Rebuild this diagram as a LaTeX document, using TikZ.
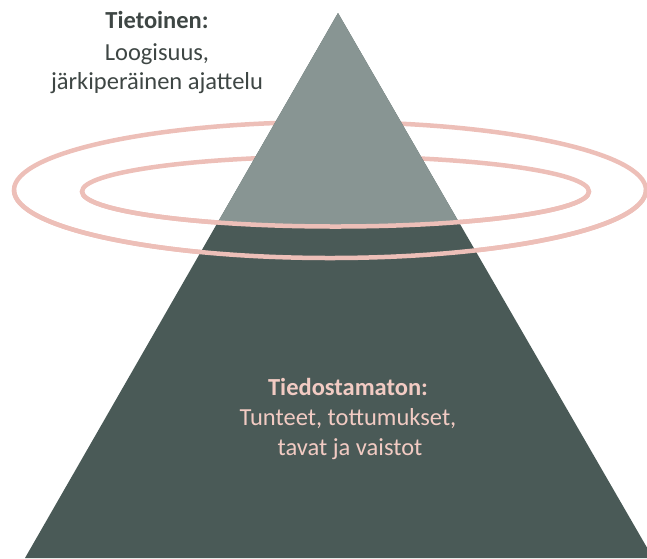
\documentclass[tikz,border=0pt]{standalone}
\usepackage{fontspec}
\setmainfont{Carlito}
\definecolor{ringpink}{HTML}{EDBFB8}
\definecolor{lightgreen}{HTML}{889593}
\definecolor{darkgreen}{HTML}{4A5A57}
\definecolor{toptextc}{HTML}{3E4644}
\definecolor{bottextc}{HTML}{F2CBC3}
\begin{document}
\begin{tikzpicture}[x=1pt,y=-1pt,
  ring/.style={draw=ringpink,line width=4.5pt},
  txt/.style={font=\fontsize{24.5}{30}\selectfont,anchor=base,inner sep=0pt},
  toptxt/.style={txt,text=toptextc},
  bottxt/.style={txt,text=bottextc}]
\useasboundingbox (0,0) rectangle (647,558);
\coordinate (apex) at (338,13);
\coordinate (bl) at (25,558);
\coordinate (br) at (653,558);
% rings (back parts)
\draw[ring] (330,190) ellipse [x radius=316pt, y radius=68pt];
\draw[ring] (335.5,191.5) ellipse [x radius=253.5pt, y radius=35pt];
% pyramid
\fill[darkgreen] (apex) -- (bl) -- (br) -- cycle;
\begin{scope}
  \clip (82,191.5) arc[start angle=180,end angle=360,x radius=253.5pt,y radius=35pt] -- (589,0) -- (82,0) -- cycle;
  \fill[lightgreen] (apex) -- (bl) -- (br) -- cycle;
\end{scope}
% rings (front parts)
\draw[ring] (14,190) arc[start angle=180,end angle=360,x radius=316pt,y radius=68pt];
\draw[ring] (82,191.5) arc[start angle=180,end angle=360,x radius=253.5pt,y radius=35pt];
% texts
\node[toptxt,font=\fontsize{24.5}{30}\selectfont\bfseries] (t1) at (157,28) {Tietoinen:};
\node[toptxt] (t2) at (157,60) {Loogisuus,};
\node[toptxt] (t3) at (157,89) {järkiperäinen ajattelu};
\node[bottxt,font=\fontsize{24.5}{30}\selectfont\bfseries] (b1) at (348,395) {Tiedostamaton:};
\node[bottxt] (b2) at (348,425) {Tunteet, tottumukset,};
\node[bottxt] (b3) at (350,455) {tavat ja vaistot};
\end{tikzpicture}
\end{document}
